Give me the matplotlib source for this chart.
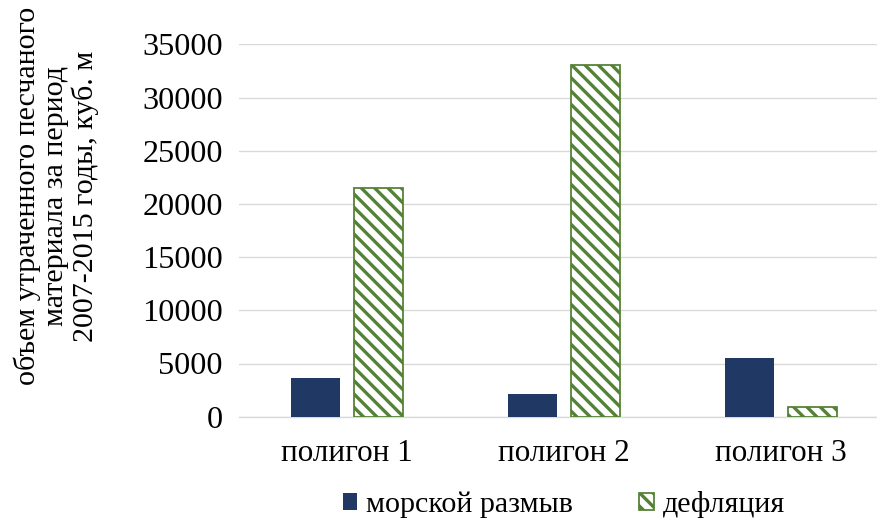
import matplotlib.pyplot as plt
import numpy as np

plt.rcParams['font.family'] = ['Liberation Serif', 'DejaVu Serif']
plt.rcParams['hatch.linewidth'] = 3.0
plt.rcParams['hatch.color'] = '#548235'

categories = ['полигон 1', 'полигон 2', 'полигон 3']
series_names = ['морской размыв', 'дефляция']
sea_erosion = [3630, 2150, 5500]
deflation = [21450, 33050, 870]
yticks = [0, 5000, 10000, 15000, 20000, 25000, 30000, 35000]

navy = '#203864'
green = '#548235'
grid_col = '#D9D9D9'

dpi = 80
fig = plt.figure(figsize=(877 / dpi, 519 / dpi), dpi=dpi)
ax = fig.add_axes([238.5 / 877, 102.3 / 519, 651 / 877, 372.4 / 519])

x = np.arange(len(categories))
w = 0.226
off = 0.143
ax.bar(x - off, sea_erosion, w, color=navy, label=series_names[0], zorder=3)
ax.bar(x + off, deflation, w, facecolor='white', edgecolor=green, hatch='\\\\',
       linewidth=1.6, label=series_names[1], zorder=3)

ax.set_xlim(-0.5, 2.5)
ax.set_ylim(0, 35000)
ax.set_yticks(yticks)
ax.set_yticklabels([str(v) for v in yticks])
ax.set_xticks(x)
ax.set_xticklabels(categories)
ax.tick_params(axis='both', length=0, labelsize=28, colors='black')
ax.tick_params(axis='y', pad=14, labelsize=29)
ax.tick_params(axis='x', pad=20)

ax.grid(axis='y', color=grid_col, linewidth=1.2, zorder=0)
for s in ['top', 'right', 'left']:
    ax.spines[s].set_visible(False)
ax.spines['bottom'].set_color(grid_col)
ax.spines['bottom'].set_linewidth(1.2)

fig.text(56 / 877, 1 - 196 / 519,
         'объем утраченного песчаного\nматериала за период\n2007-2015 годы, куб. м',
         rotation=90, ha='center', va='center', multialignment='center',
         fontsize=27, linespacing=1.12)

fig.legend(loc='center', bbox_to_anchor=(564 / 877, 1 - 505 / 519), ncol=2,
           frameon=False, fontsize=27, handlelength=0.48, handleheight=0.48,
           handletextpad=0.3, columnspacing=2.2, borderpad=0)

fig.savefig('out.png', dpi=dpi)
